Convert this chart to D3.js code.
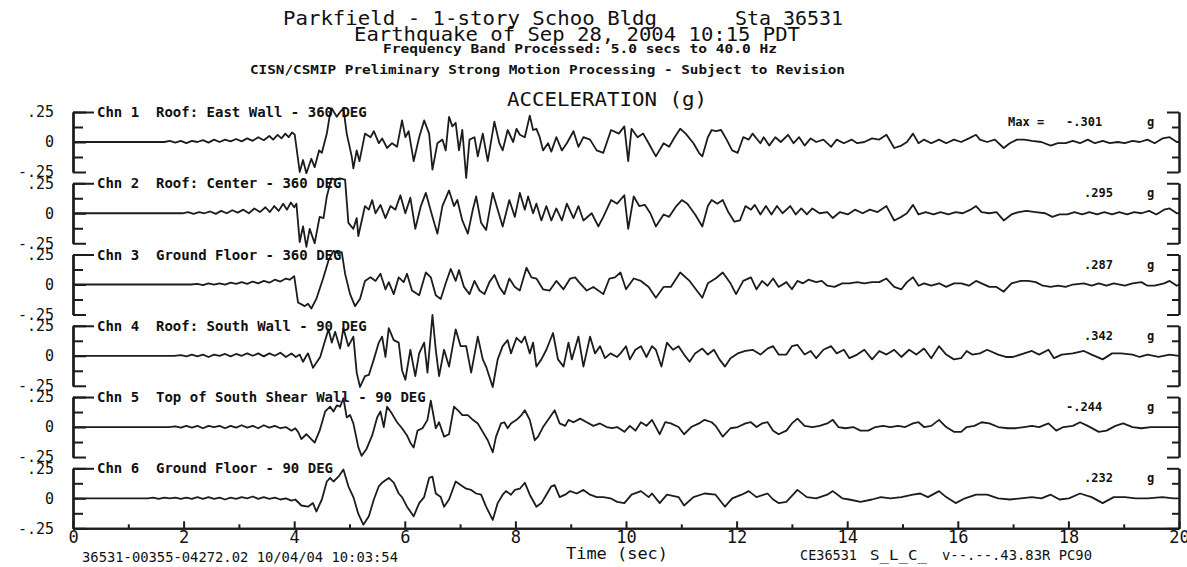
<!DOCTYPE html>
<html>
<head>
<meta charset="utf-8">
<script src="https://cdn.jsdelivr.net/npm/d3@7"></script>
<style>
body { margin: 0; background: #fff; }
svg text { font-family: "DejaVu Sans Mono", monospace; fill: #111; white-space: pre; }
</style>
</head>
<body>
<div id="chart"></div>
<script>
// ACCELERATION TRACES (time in sec, acceleration in g) -----------------------
var chn1 = [[0,0],[1.65,0],[1.75,0.01],[1.85,-0.005],[1.95,0.01],[2.05,-0.01],[2.15,0.01],[2.25,0],[2.35,0.015],[2.45,-0.005],[2.55,0.02],[2.65,0],[2.75,0.02],[2.85,0.005],[2.95,0.025],[3.05,0.005],[3.15,0.03],[3.25,0.01],[3.35,0.04],[3.45,0.015],[3.55,0.05],[3.62,0.02],[3.7,0.06],[3.77,0.03],[3.84,0.07],[3.9,0.04],[3.96,0.08],[4.01,0.06],
	[4.10,-0.25],[4.16,-0.15],[4.22,-0.26],[4.31,-0.14],[4.37,-0.21],[4.45,-0.07],[4.50,-0.09],[4.59,0.07],[4.65,0.24],[4.68,0.28],[4.77,0.21],[4.83,0.25],[4.89,0.28],[4.95,0.07],[5.04,-0.12],[5.07,-0.22],[5.13,-0.07],[5.18,-0.16],[5.28,0.07],[5.38,0.04],[5.44,0.09],[5.53,-0.01],[5.59,0.03],[5.68,-0.05],[5.77,-0.01],[5.86,-0.04],[5.95,0.18],[6.01,0.04],[6.07,0.09],[6.16,-0.16],[6.26,0.04],[6.35,0.18],[6.44,0.07],[6.50,-0.23],[6.59,-0.01],[6.68,0.02],[6.74,-0.07],[6.80,0.21],[6.86,0.13],[6.92,0.16],[6.98,-0.07],[7.04,0.10],[7.11,-0.30],[7.17,0.02],[7.26,0.04],[7.32,-0.12],[7.41,0.07],[7.50,-0.16],[7.62,0.17],[7.71,-0.01],[7.77,-0.07],[7.86,0.10],[7.96,0.0],[8.02,0.11],[8.08,0.06],[8.17,0.04],[8.26,0.22],[8.32,0.10],[8.38,0.11],[8.44,0.04],[8.50,-0.07],[8.59,-0.01],[8.65,-0.08],[8.74,0.04],[8.84,-0.07],[8.93,-0.01],[9.05,0.09],[9.14,-0.04],[9.23,0.04],[9.35,0.02],[9.47,-0.07],[9.59,-0.09],
	[9.73,0.10],[9.87,0.07],[9.97,0.13],[10.04,-0.16],[10.10,0.11],[10.21,0.04],[10.31,0.07],[10.41,-0.01],[10.54,-0.12],[10.68,-0.01],[10.78,-0.04],[10.88,0.04],[10.98,0.11],[11.08,0.07],[11.22,-0.01],[11.32,-0.09],[11.38,-0.12],[11.48,0.04],[11.55,0.10],[11.62,0.09],[11.72,0.10],[11.82,0.02],[11.92,-0.07],[12.02,-0.09],[12.12,0.04],[12.22,0.02],[12.29,0.07],[12.43,-0.01],[12.49,0.04],[12.59,-0.03],[12.70,0.04],[12.80,0.0],[12.93,0.06],[13.03,-0.01],[13.13,0.04],[13.23,-0.03],[13.34,0.03],[13.44,0.0],[13.57,0.02],[13.71,-0.04],[13.81,0.02],[13.94,-0.01],[14.08,0.02],[14.18,-0.01],[14.31,0.0],[14.45,0.03],[14.58,0.02],[14.71,0.06],[14.85,-0.05],[14.98,-0.03],[15.08,0.0],[15.19,0.07],[15.29,-0.01],[15.39,0.02],[15.52,-0.01],[15.66,0.02],[15.79,-0.01],[15.93,0.02],[16.06,0.0],[16.20,0.03],[16.33,0.06],[16.40,0.02],[16.53,0.0],[16.67,0.02],[16.83,-0.05],[16.94,-0.01],[17.07,0.02],[17.20,0.02],[17.34,0.01],[17.51,0.0],[17.68,-0.03],[17.81,-0.01],[17.95,-0.01],[18.08,0.01],[18.21,-0.01],[18.35,0.02],[18.48,-0.01],[18.62,0.01],[18.75,-0.01],[18.89,0.0],[19.02,-0.01],[19.16,0.01],[19.29,0.0],[19.43,0.02],[19.56,-0.01],[19.70,0.03],[19.83,0.04],[19.96,0.0],[20,0]];

var chn2 = [[0,0],[1.98,0],[2.08,0.01],[2.18,-0.005],[2.28,0.01],[2.38,0],[2.48,0.015],[2.58,-0.005],[2.68,0.02],[2.78,0],[2.88,0.025],[2.98,0.005],[3.08,0.03],[3.18,0],[3.28,0.04],[3.38,0.01],[3.48,0.05],[3.56,0.01],[3.64,0.06],[3.72,0.02],[3.8,0.08],[3.87,0.03],[3.94,0.09],[4.0,0.05],[4.04,0.08],
	[4.10,-0.24],[4.16,-0.11],[4.22,-0.28],[4.28,-0.13],[4.37,-0.25],[4.46,-0.03],[4.53,-0.04],[4.59,0.14],[4.65,0.25],[4.68,0.29],[4.74,0.28],[4.83,0.29],[4.92,0.28],[4.98,-0.08],[5.07,-0.13],[5.13,-0.04],[5.16,-0.19],[5.28,0.06],[5.35,0.03],[5.41,0.11],[5.47,0.0],[5.56,0.07],[5.65,-0.04],[5.74,0.06],[5.83,0.03],[5.92,0.15],[6.01,0.0],[6.10,0.13],[6.19,-0.13],[6.29,0.06],[6.38,0.17],[6.50,-0.03],[6.59,-0.17],[6.68,0.06],[6.80,0.19],[6.89,0.06],[6.95,0.11],[7.04,-0.06],[7.14,-0.17],[7.23,0.03],[7.29,0.14],[7.38,-0.08],[7.47,-0.14],[7.59,0.17],[7.68,0.03],[7.77,-0.11],[7.89,0.11],[7.99,-0.03],[8.08,0.17],[8.17,0.03],[8.23,0.14],[8.32,0.0],[8.38,0.08],[8.47,-0.06],[8.56,0.06],[8.65,-0.06],[8.74,0.04],[8.84,-0.06],[8.93,0.08],[9.05,-0.04],[9.14,0.06],[9.23,-0.06],[9.38,0.0],[9.50,-0.11],[9.59,-0.03],
	[9.73,0.11],[9.84,0.08],[9.97,0.15],[10.04,-0.13],[10.14,0.14],[10.24,0.06],[10.34,0.07],[10.44,0.0],[10.54,-0.11],[10.68,-0.01],[10.78,-0.03],[10.91,0.06],[11.01,0.11],[11.11,0.08],[11.25,-0.01],[11.38,-0.11],[11.48,0.06],[11.55,0.11],[11.65,0.08],[11.75,0.11],[11.85,0.01],[11.96,-0.07],[12.06,-0.06],[12.16,0.06],[12.26,0.03],[12.33,0.07],[12.43,-0.01],[12.53,0.06],[12.63,-0.01],[12.73,0.06],[12.83,0.0],[12.97,0.06],[13.07,-0.01],[13.17,0.04],[13.27,-0.01],[13.37,0.04],[13.50,0.0],[13.64,0.01],[13.74,-0.04],[13.87,0.01],[14.01,-0.01],[14.14,0.03],[14.28,0.0],[14.41,0.03],[14.55,0.01],[14.71,0.06],[14.85,-0.06],[14.98,-0.03],[15.08,0.0],[15.19,0.07],[15.29,-0.01],[15.42,0.01],[15.56,-0.01],[15.69,0.01],[15.83,-0.01],[15.96,0.01],[16.09,0.0],[16.23,0.03],[16.33,0.06],[16.43,0.01],[16.57,0.0],[16.70,0.01],[16.83,-0.06],[16.97,-0.01],[17.10,0.01],[17.24,0.02],[17.41,0.01],[17.58,0.0],[17.71,-0.03],[17.84,-0.01],[17.98,-0.01],[18.11,0.01],[18.25,-0.01],[18.38,0.01],[18.52,-0.01],[18.65,0.01],[18.79,-0.01],[18.92,0.01],[19.06,-0.01],[19.19,0.01],[19.32,0.0],[19.46,0.02],[19.59,-0.01],[19.73,0.03],[19.83,0.04],[19.96,0.0],[20,0]];

var chn3 = [[0,0],[2.13,0],[2.25,0.005],[2.35,-0.005],[2.45,0.01],[2.55,0],[2.65,0.01],[2.75,0],[2.85,0.015],[2.95,0.005],[3.05,0.02],[3.15,0.005],[3.25,0.025],[3.35,0.01],[3.45,0.03],[3.55,0.015],[3.65,0.04],[3.75,0.025],[3.85,0.05],[3.92,0.04],[4.0,0.07],
	[4.07,-0.15],[4.19,-0.18],[4.25,-0.16],[4.31,-0.20],[4.40,-0.12],[4.53,0.06],[4.62,0.20],[4.71,0.28],[4.80,0.26],[4.86,0.27],[4.92,0.09],[5.01,-0.08],[5.10,-0.18],[5.19,-0.12],[5.28,0.03],[5.38,0.06],[5.47,0.03],[5.56,0.09],[5.65,-0.04],[5.71,0.02],[5.80,-0.08],[5.89,0.06],[5.98,0.02],[6.04,0.09],[6.13,-0.05],[6.26,-0.09],[6.38,0.10],[6.47,0.06],[6.56,-0.09],[6.65,-0.12],[6.74,0.01],[6.83,0.13],[6.92,0.03],[6.98,0.12],[7.07,-0.02],[7.17,-0.08],[7.26,0.03],[7.35,-0.05],[7.44,-0.08],[7.53,0.02],[7.62,0.08],[7.71,-0.02],[7.80,-0.08],[7.89,0.05],[7.99,-0.02],[8.08,-0.05],[8.20,0.14],[8.29,0.06],[8.38,0.05],[8.50,-0.04],[8.62,-0.05],[8.74,0.03],[8.87,-0.04],[8.99,0.05],[9.08,0.06],[9.17,0.01],[9.29,-0.05],[9.41,-0.02],[9.59,-0.08],
	[9.70,0.05],[9.80,0.06],[9.90,0.10],[10.00,-0.04],[10.14,0.05],[10.27,0.03],[10.41,-0.02],[10.54,-0.11],[10.68,-0.02],[10.81,-0.02],[10.98,0.10],[11.15,0.03],[11.28,-0.05],[11.38,-0.11],[11.48,0.01],[11.62,0.05],[11.75,0.10],[11.89,0.01],[11.99,-0.08],[12.12,0.03],[12.26,0.06],[12.36,-0.04],[12.46,0.03],[12.56,-0.01],[12.66,0.05],[12.76,-0.02],[12.90,0.02],[13.00,-0.04],[13.10,0.03],[13.20,0.01],[13.30,0.04],[13.44,0.02],[13.54,0.03],[13.64,-0.01],[13.77,-0.02],[13.91,0.01],[14.04,0.01],[14.18,0.02],[14.31,0.01],[14.45,0.02],[14.58,0.02],[14.71,0.05],[14.85,-0.02],[14.98,-0.04],[15.08,0.02],[15.19,0.06],[15.29,-0.01],[15.39,0.01],[15.52,-0.01],[15.66,0.01],[15.79,-0.02],[15.93,0.01],[16.06,0.01],[16.20,-0.01],[16.33,0.03],[16.43,0.01],[16.57,-0.02],[16.70,-0.02],[16.83,-0.06],[16.97,0.01],[17.14,0.03],[17.27,0.03],[17.41,0.02],[17.54,-0.01],[17.68,-0.02],[17.81,-0.01],[17.95,-0.02],[18.08,0.0],[18.28,0.01],[18.42,-0.01],[18.55,0.01],[18.69,-0.01],[18.82,0.01],[19.02,-0.01],[19.16,0.01],[19.32,0.02],[19.43,-0.01],[19.56,-0.01],[19.73,0.01],[19.83,0.03],[19.96,-0.01],[20,0]];

var chn4 = [[0,0],[1.83,0],[1.95,0.005],[2.05,-0.005],[2.15,0.01],[2.25,-0.005],[2.35,0.01],[2.45,-0.01],[2.55,0.01],[2.65,0],[2.75,0.015],[2.85,-0.005],[2.95,0.015],[3.05,0],[3.15,0.02],[3.25,0],[3.35,0.02],[3.45,-0.005],[3.55,0.02],[3.65,0],[3.75,0.025],[3.85,-0.01],[3.95,0.02],[4.03,-0.01],[4.1,0.01],[4.16,-0.05],[4.22,0.0],[4.25,0.02],
	[4.34,-0.10],[4.47,-0.01],[4.56,0.13],[4.62,0.22],[4.68,0.11],[4.74,0.20],[4.83,0.06],[4.89,0.23],[4.98,0.08],[5.07,0.16],[5.13,-0.14],[5.19,-0.26],[5.28,-0.17],[5.35,-0.16],[5.44,-0.03],[5.53,0.11],[5.59,0.16],[5.65,-0.01],[5.71,0.23],[5.80,0.13],[5.89,0.11],[5.95,-0.12],[6.01,-0.20],[6.10,0.05],[6.19,-0.17],[6.26,0.02],[6.35,0.11],[6.41,-0.14],[6.50,0.34],[6.56,0.05],[6.62,-0.17],[6.71,0.05],[6.80,-0.09],[6.92,0.22],[7.01,0.08],[7.11,0.08],[7.20,-0.14],[7.32,0.16],[7.41,-0.03],[7.47,-0.09],[7.59,-0.26],[7.68,-0.03],[7.77,0.08],[7.86,0.13],[7.92,0.02],[8.02,0.15],[8.11,0.11],[8.17,0.16],[8.26,0.02],[8.32,0.11],[8.38,-0.09],[8.47,-0.03],[8.56,0.05],[8.68,0.19],[8.77,-0.03],[8.87,-0.09],[8.96,0.11],[9.02,-0.03],[9.14,0.16],[9.23,-0.09],[9.35,0.16],[9.44,0.02],[9.53,0.08],[9.62,-0.02],[9.72,0.02],[9.84,-0.01],
	[9.90,0.02],[10.00,0.08],[10.07,-0.03],[10.17,0.05],[10.27,0.08],[10.37,-0.01],[10.47,0.08],[10.54,0.05],[10.64,-0.09],[10.74,0.11],[10.85,0.05],[10.95,0.08],[11.05,0.01],[11.15,-0.05],[11.25,0.02],[11.38,0.06],[11.48,0.01],[11.59,0.05],[11.69,-0.03],[11.79,-0.09],[11.89,-0.02],[12.02,0.02],[12.16,0.04],[12.29,0.05],[12.43,0.01],[12.56,0.06],[12.66,0.08],[12.76,0.01],[12.90,0.01],[13.00,0.08],[13.10,0.09],[13.23,0.01],[13.34,0.04],[13.44,-0.02],[13.57,0.05],[13.71,0.08],[13.81,0.02],[13.94,0.05],[14.04,-0.02],[14.18,0.01],[14.31,0.05],[14.45,-0.03],[14.58,0.04],[14.71,0.01],[14.85,0.05],[14.98,-0.01],[15.12,0.05],[15.25,0.01],[15.39,0.06],[15.52,-0.02],[15.66,0.08],[15.79,0.01],[15.93,-0.03],[16.06,-0.02],[16.16,0.04],[16.26,0.01],[16.40,0.02],[16.53,0.05],[16.73,0.01],[16.87,-0.01],[17.00,-0.01],[17.20,0.02],[17.34,0.04],[17.47,0.01],[17.64,0.05],[17.74,-0.02],[17.88,0.01],[18.08,0.02],[18.28,0.04],[18.42,0.01],[18.62,-0.03],[18.79,0.02],[18.95,0.02],[19.16,0.01],[19.29,-0.01],[19.43,0.01],[19.63,-0.01],[19.83,0.01],[20,0]];

var chn5 = [[0,0],[1.73,0],[1.85,0.005],[1.95,-0.005],[2.05,0.01],[2.15,-0.005],[2.25,0.01],[2.35,-0.01],[2.45,0.01],[2.55,0],[2.65,0.01],[2.75,-0.01],[2.85,0.01],[2.95,-0.005],[3.05,0.015],[3.15,-0.005],[3.25,0.01],[3.35,-0.01],[3.45,0.015],[3.55,-0.005],[3.65,0.01],[3.75,-0.01],[3.85,0.0],[3.95,-0.03],[4.02,-0.01],
	[4.07,-0.04],[4.13,-0.10],[4.22,-0.06],[4.37,-0.13],[4.46,-0.03],[4.56,0.13],[4.65,0.17],[4.71,0.13],[4.77,0.18],[4.83,0.17],[4.89,0.24],[4.95,0.08],[5.01,0.10],[5.07,0.03],[5.16,-0.17],[5.22,-0.24],[5.31,-0.18],[5.41,-0.07],[5.50,0.08],[5.56,0.13],[5.62,0.0],[5.68,0.17],[5.77,0.11],[5.86,0.04],[5.95,-0.01],[6.04,-0.07],[6.10,-0.13],[6.16,-0.17],[6.23,-0.03],[6.32,-0.01],[6.41,0.06],[6.47,0.22],[6.56,-0.01],[6.62,0.04],[6.71,-0.08],[6.80,-0.06],[6.89,0.17],[6.98,0.13],[7.04,0.10],[7.14,0.10],[7.23,0.06],[7.32,0.03],[7.41,-0.04],[7.50,-0.11],[7.59,-0.21],[7.65,-0.08],[7.74,0.03],[7.80,0.04],[7.86,-0.01],[7.92,0.03],[8.02,0.06],[8.11,0.10],[8.17,0.14],[8.26,0.06],[8.35,-0.11],[8.41,-0.08],[8.50,0.0],[8.62,0.08],[8.71,0.14],[8.80,0.03],[8.90,0.01],[8.96,0.06],[9.05,0.04],[9.17,0.07],[9.29,0.04],[9.41,0.01],[9.53,0.03],[9.65,0.0],[9.75,-0.01],
	[9.84,0.0],[9.97,-0.04],[10.07,0.01],[10.17,-0.03],[10.27,0.04],[10.37,0.01],[10.47,0.06],[10.61,-0.06],[10.71,0.04],[10.81,0.03],[10.95,0.0],[11.05,-0.06],[11.18,0.0],[11.32,0.03],[11.42,0.06],[11.55,0.04],[11.62,0.01],[11.75,-0.08],[11.89,-0.01],[12.02,0.0],[12.16,0.03],[12.26,0.04],[12.36,0.0],[12.46,0.03],[12.56,0.04],[12.66,-0.03],[12.76,-0.06],[12.90,-0.03],[13.00,0.03],[13.10,0.07],[13.23,0.01],[13.37,0.0],[13.50,0.01],[13.64,0.03],[13.74,0.06],[13.84,0.0],[13.97,-0.01],[14.11,0.0],[14.24,-0.03],[14.38,-0.03],[14.51,0.0],[14.65,0.01],[14.78,0.0],[14.92,0.01],[15.05,0.0],[15.19,0.03],[15.29,0.04],[15.39,0.0],[15.52,0.01],[15.66,0.06],[15.79,0.0],[15.93,-0.04],[16.06,-0.04],[16.16,0.0],[16.30,0.01],[16.43,0.04],[16.57,0.03],[16.73,0.0],[16.90,-0.01],[17.04,-0.01],[17.20,0.0],[17.34,0.01],[17.47,0.0],[17.64,0.03],[17.78,-0.03],[17.91,0.0],[18.08,0.01],[18.21,0.04],[18.35,0.01],[18.55,-0.04],[18.69,-0.03],[18.85,0.01],[18.99,0.03],[19.16,0.0],[19.32,-0.01],[19.49,0.0],[19.70,0.0],[19.90,0.0],[20,0]];

var chn6 = [[0,0],[1.35,0],[1.45,0.005],[1.55,-0.005],[1.65,0.005],[1.75,0],[1.85,0.005],[1.95,-0.005],[2.05,0.005],[2.15,-0.005],[2.25,0.01],[2.35,-0.005],[2.45,0.01],[2.55,-0.005],[2.65,0.005],[2.75,-0.01],[2.85,0.005],[2.95,-0.005],[3.05,0.01],[3.15,0.0],[3.25,0.015],[3.35,-0.005],[3.45,0.01],[3.55,-0.005],[3.65,0.005],[3.75,-0.01],[3.85,0.0],[3.95,-0.02],[4.02,-0.01],
	[4.13,-0.06],[4.25,-0.07],[4.34,-0.04],[4.40,-0.11],[4.50,-0.01],[4.59,0.14],[4.65,0.17],[4.71,0.14],[4.80,0.18],[4.89,0.24],[4.98,0.10],[5.07,0.01],[5.16,-0.13],[5.25,-0.22],[5.35,-0.15],[5.44,-0.01],[5.53,0.10],[5.59,0.13],[5.65,0.15],[5.71,0.17],[5.80,0.13],[5.89,0.04],[5.95,0.01],[6.04,-0.07],[6.16,-0.15],[6.26,-0.04],[6.35,0.01],[6.44,0.17],[6.50,0.18],[6.56,0.04],[6.65,0.01],[6.71,-0.07],[6.80,-0.01],[6.92,0.14],[7.01,0.11],[7.11,0.08],[7.20,0.07],[7.29,0.04],[7.38,0.03],[7.47,-0.07],[7.59,-0.18],[7.68,-0.04],[7.77,0.03],[7.83,0.06],[7.92,0.03],[7.99,0.07],[8.08,0.08],[8.17,0.13],[8.26,0.03],[8.38,-0.07],[8.47,-0.04],[8.56,0.03],[8.65,0.10],[8.71,0.11],[8.80,0.01],[8.90,0.03],[8.99,0.06],[9.11,0.04],[9.23,0.07],[9.35,0.03],[9.47,0.01],[9.59,0.01],[9.72,0.0],[9.84,-0.03],
	[9.97,-0.04],[10.10,0.03],[10.27,0.06],[10.41,0.01],[10.47,0.04],[10.61,-0.04],[10.74,0.03],[10.95,0.01],[11.05,-0.06],[11.22,0.01],[11.42,0.04],[11.62,0.03],[11.79,-0.07],[11.92,0.0],[12.09,0.03],[12.22,0.06],[12.36,0.01],[12.56,0.04],[12.66,-0.01],[12.76,-0.04],[12.90,-0.03],[13.10,0.07],[13.27,0.01],[13.44,0.0],[13.64,0.03],[13.74,0.06],[13.91,0.0],[14.04,-0.01],[14.24,-0.03],[14.45,-0.01],[14.61,0.01],[14.78,0.0],[14.98,0.01],[15.19,0.03],[15.32,0.04],[15.46,0.01],[15.66,0.06],[15.79,0.01],[15.96,-0.04],[16.13,0.0],[16.33,0.03],[16.53,0.03],[16.73,0.0],[16.94,-0.01],[17.14,0.0],[17.34,0.01],[17.51,0.0],[17.68,0.03],[17.84,-0.01],[18.01,0.0],[18.21,0.04],[18.42,0.01],[18.62,-0.04],[18.82,0.01],[19.02,0.01],[19.22,0.0],[19.43,0.0],[19.70,0.01],[19.90,0.0],[20,0]];

var traces = [chn1, chn2, chn3, chn4, chn5, chn6];

var channelLabels = [
	"Chn 1  Roof: East Wall - 360 DEG",
	"Chn 2  Roof: Center - 360 DEG",
	"Chn 3  Ground Floor - 360 DEG",
	"Chn 4  Roof: South Wall - 90 DEG",
	"Chn 5  Top of South Shear Wall - 90 DEG",
	"Chn 6  Ground Floor - 90 DEG"
];
var maxValues = ["-.301", ".295", ".287", ".342", "-.244", ".232"];

var yTicks = [-0.25, 0, 0.25];
var yMinorTicks = [-0.125, 0.125];
var xMajorTicks = [0, 2, 4, 6, 8, 10, 12, 14, 16, 18, 20];
var xMinorTicks = [1, 3, 5, 7, 9, 11, 13, 15, 17, 19];

// SVG SIZE ETC -----------------------------------------------------------------
var width = 1187, height = 567;
var left = 73, right = 1179;
var firstZero = 142, panelStep = 71.26, halfH = 30;
var ink = "#1c1c1c";

var svg = d3.select("#chart")
	.append("svg")
	.attr("width", width)
	.attr("height", height);

var x = d3.scaleLinear().domain([0, 20]).range([left, right]);

// text helper, textLength squeezes the mono font to the plotter widths
function label(str, x0, y0, size, len, weight) {
	var t = svg.append("text")
		.attr("x", x0)
		.attr("y", y0)
		.attr("font-size", size)
		.attr("font-weight", weight || "normal")
		.text(str);
	if (len) {
		t.attr("textLength", len).attr("lengthAdjust", "spacingAndGlyphs");
	}
	return t;
}

// headings
label("Parkfield - 1-story Schoo Bldg", 283, 25, 20, 374);
label("Sta 36531", 735, 25, 20, 108);
label("Earthquake of Sep 28, 2004 10:15 PDT", 354, 41, 20, 446);
label("Frequency Band Processed: 5.0 secs to 40.0 Hz", 383, 53, 12, 394, "bold");
label("CISN/CSMIP Preliminary Strong Motion Processing - Subject to Revision", 250, 74, 13, 595, "bold");
label("ACCELERATION (g)", 507, 106, 19, 200);

var fmt = function(d) {
	if (d === 0) return "0";
	return (d < 0 ? "-" : "") + d3.format(".2f")(Math.abs(d)).replace(/^0/, "");
};

function styleAxis(g) {
	g.attr("font-family", null);
	g.selectAll("path, line").attr("stroke", ink).attr("stroke-width", 2);
	g.selectAll("text").attr("fill", "#111");
}

// PANELS -----------------------------------------------------------------------
traces.forEach(function(data, i) {
	var zero = firstZero + i * panelStep;
	var y = d3.scaleLinear().domain([-0.25, 0.25]).range([zero + halfH, zero - halfH]);

	// left bracket axis with labels, longer top tick runs into the channel label
	svg.append("g")
		.attr("transform", "translate(" + left + ",0)")
		.call(d3.axisLeft(y).tickValues(yTicks).tickSizeInner(-13).tickSizeOuter(0)
			.tickPadding(19).tickFormat(fmt))
		.call(styleAxis)
		.attr("font-size", 15);
	svg.append("g")
		.attr("transform", "translate(" + left + ",0)")
		.call(d3.axisLeft(y).tickValues([0.25]).tickSizeInner(-21).tickSizeOuter(0)
			.tickFormat(""))
		.call(styleAxis);
	svg.append("g")
		.attr("transform", "translate(" + left + ",0)")
		.call(d3.axisLeft(y).tickValues(yMinorTicks).tickSizeInner(-10).tickSizeOuter(0)
			.tickFormat(""))
		.call(styleAxis);

	// right bracket
	svg.append("g")
		.attr("transform", "translate(" + right + ",0)")
		.call(d3.axisRight(y).tickValues([-0.25, 0.25]).tickSizeInner(-12).tickSizeOuter(0)
			.tickFormat(""))
		.call(styleAxis);
	svg.append("g")
		.attr("transform", "translate(" + right + ",0)")
		.call(d3.axisRight(y).tickValues(yMinorTicks).tickSizeInner(-7).tickSizeOuter(0)
			.tickFormat(""))
		.call(styleAxis);

	// trace
	var line = d3.line()
		.x(function(d) { return x(d[0]); })
		.y(function(d) { return y(d[1]); });
	svg.append("path")
		.datum(data)
		.attr("d", line)
		.attr("fill", "none")
		.attr("stroke", ink)
		.attr("stroke-width", 1.8)
		.attr("stroke-linejoin", "round");

	// channel label sits on the top bracket
	label(channelLabels[i], 97, zero - halfH + 5, 14, null, "bold");

	// peak value
	if (i === 0) label("Max =", 1008, zero - 16, 12, null, "bold");
	var v = maxValues[i];
	label(v, v.charAt(0) === "-" ? 1066 : 1084, zero - 16, 12, null, "bold");
	label("g", 1147, zero - 16, 12, null, "bold");
});

// TIME AXIS ----------------------------------------------------------------------
var axisY = firstZero + 5 * panelStep + halfH;
svg.append("g")
	.attr("transform", "translate(0," + axisY + ")")
	.call(d3.axisBottom(x).tickValues(xMinorTicks).tickSizeInner(-4).tickSizeOuter(0).tickFormat(""))
	.call(styleAxis);
svg.append("g")
	.attr("transform", "translate(0," + axisY + ")")
	.call(d3.axisBottom(x).tickValues(xMajorTicks).tickSizeInner(-7).tickSizeOuter(0).tickPadding(3)
		.tickFormat(d3.format("d")))
	.call(styleAxis)
	.attr("font-size", 17);

label("Time (sec)", 566, 559, 15, 102);
label("36531-00355-04272.02 10/04/04 10:03:54", 82, 562, 14, 316);
label("CE36531", 800, 560, 14, 57);
label("S_L_C_", 870, 560, 14, 57);
label("v--.--.43.83R PC90", 942, 560, 14, 150);
</script>
</body>
</html>
